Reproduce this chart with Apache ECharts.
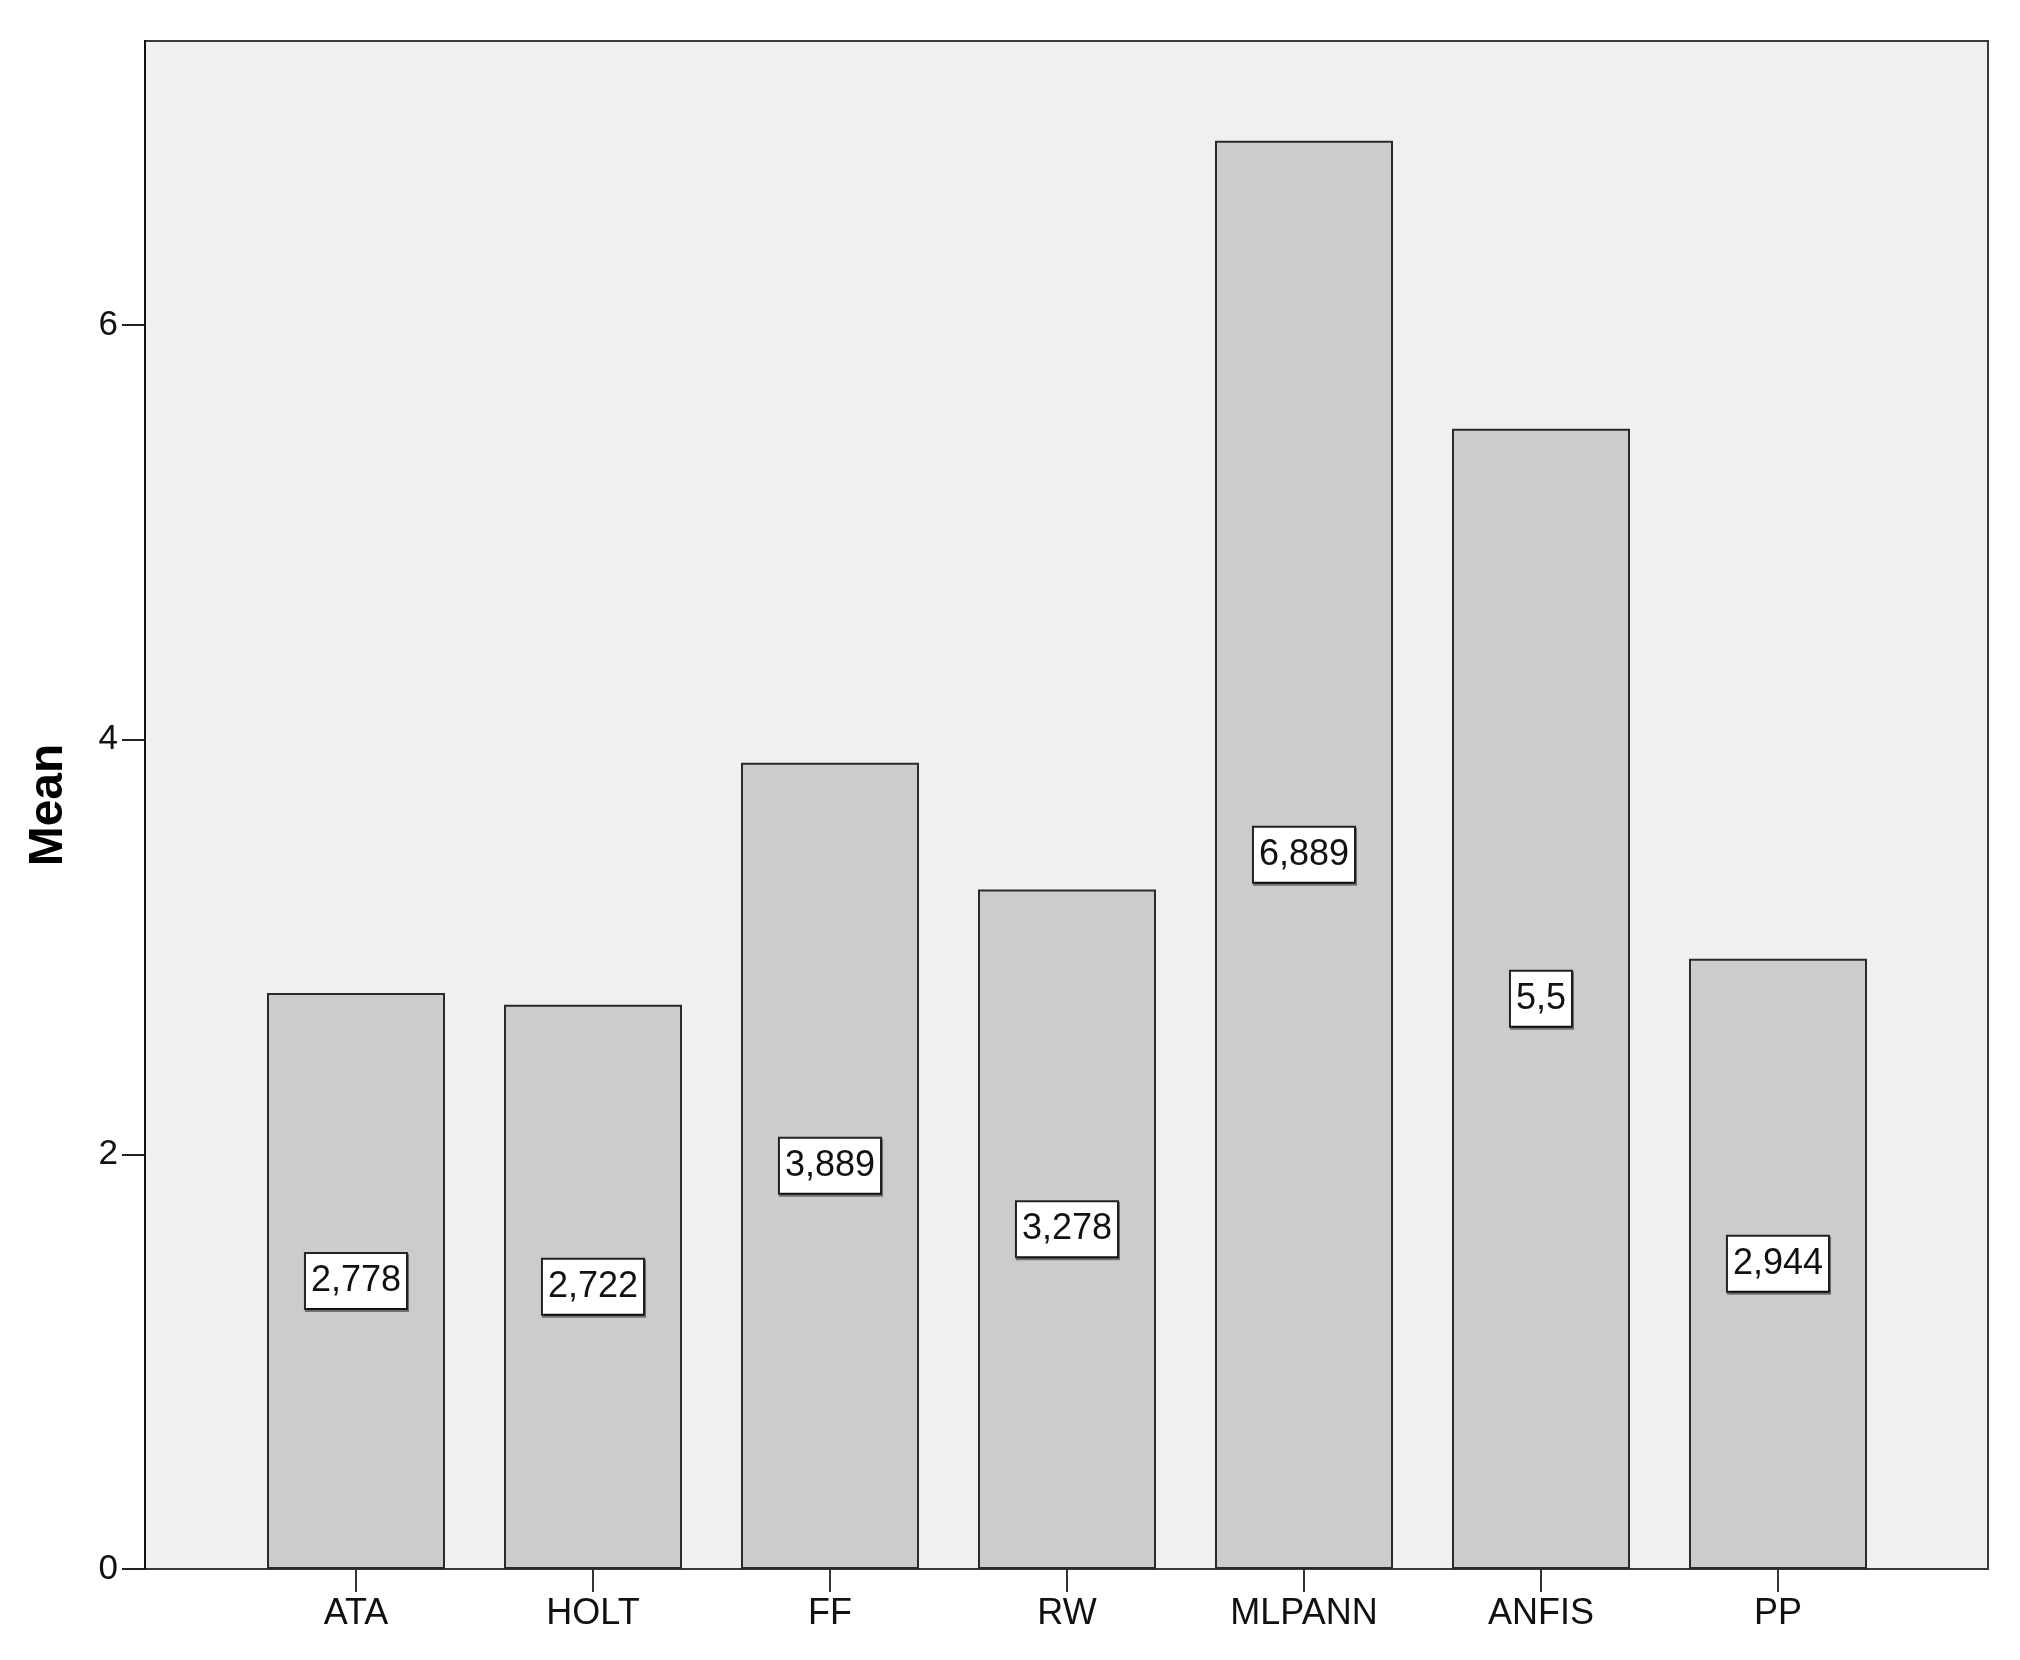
<!DOCTYPE html>
<html>
<head>
<meta charset="utf-8">
<script src="https://cdn.jsdelivr.net/npm/echarts@6/dist/echarts.min.js"></script>
<style>
  html, body { margin: 0; padding: 0; background: #ffffff; }
  #chart { width: 2020px; height: 1660px; }
</style>
</head>
<body>
<div id="chart"></div>
<script>
const categories = ['ATA', 'HOLT', 'FF', 'RW', 'MLPANN', 'ANFIS', 'PP'];
const meanValues = [2.778, 2.722, 3.889, 3.278, 6.889, 5.5, 2.944];
const yTickValues = [0, 2, 4, 6];
const yMax = 7.37;

const FONT = '"Liberation Sans", Arial, sans-serif';
const chart = echarts.init(document.getElementById('chart'), null, { renderer: 'canvas' });

const option = {
  backgroundColor: '#ffffff',
  animation: false,
  grid: [
    { left: 145, right: 32, top: 41, bottom: 91, show: true, containLabel: false, outerBoundsMode: 'none',
      backgroundColor: '#f0f0f0', borderColor: '#3a3a3a', borderWidth: 2 },
    { left: 237.5, right: 123.5, top: 41, bottom: 91, containLabel: false, outerBoundsMode: 'none' }
  ],
  xAxis: [
    { gridIndex: 0, type: 'value', min: 0, max: 1, show: false },
    { gridIndex: 1, type: 'category', data: categories,
      axisLine: { show: false },
      axisTick: { show: true, alignWithLabel: true, length: 23, inside: false,
                  lineStyle: { color: '#333', width: 2 } },
      axisLabel: { margin: 27, fontSize: 36, color: '#111', fontFamily: FONT },
      splitLine: { show: false } }
  ],
  yAxis: [
    { gridIndex: 0, type: 'value', min: 0, max: yMax,
      name: 'Mean', nameLocation: 'middle', nameGap: 72,
      nameTextStyle: { fontSize: 48, fontWeight: 'bold', color: '#000', fontFamily: FONT },
      axisLine: { show: true, lineStyle: { color: '#111', width: 2 } },
      axisTick: { show: true, length: 23, customValues: yTickValues,
                  lineStyle: { color: '#222', width: 2 } },
      axisLabel: { customValues: yTickValues, margin: 27, fontSize: 35, color: '#111', fontFamily: FONT },
      splitLine: { show: false } },
    { gridIndex: 1, type: 'value', min: 0, max: yMax, show: false }
  ],
  series: [
    { type: 'bar', xAxisIndex: 1, yAxisIndex: 1, data: meanValues,
      barWidth: 178,
      itemStyle: { color: '#cccccc', borderColor: '#2a2a2a', borderWidth: 2 },
      label: {
        show: true, position: 'inside',
        formatter: (p) => String(p.value).replace('.', ','),
        fontSize: 36, color: '#111', fontFamily: FONT,
        backgroundColor: '#ffffff', borderColor: '#222', borderWidth: 2,
        padding: [10, 5, 8, 5],
        shadowColor: 'rgba(0,0,0,0.45)', shadowOffsetX: 1, shadowOffsetY: 2, shadowBlur: 0
      }
    }
  ]
};
chart.setOption(option);
</script>
</body>
</html>
